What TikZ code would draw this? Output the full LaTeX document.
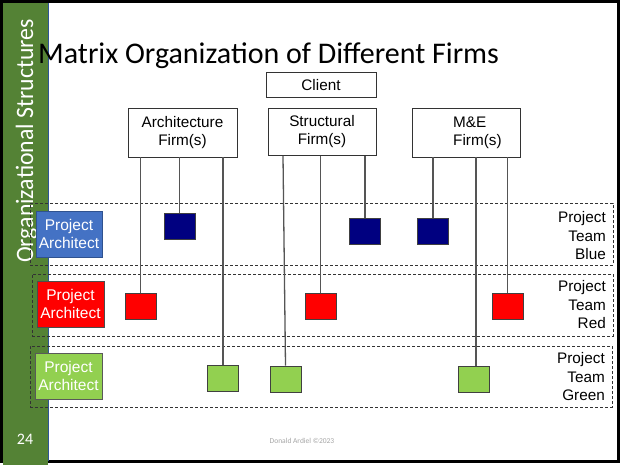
\documentclass[tikz,border=0pt]{standalone}
\usepackage{fontspec}
\setmainfont{Liberation Sans}
\newfontfamily\calfont{Carlito}
\newfontfamily\sidefont[FakeStretch=0.95]{Carlito}
\definecolor{barGreen}{HTML}{548235}
\definecolor{paBlue}{HTML}{4472C4}
\definecolor{paBlueEdge}{HTML}{2F528F}
\definecolor{sqNavy}{HTML}{000080}
\definecolor{sqRed}{HTML}{FF0000}
\definecolor{sqGreen}{HTML}{92D050}
\definecolor{lineGray}{HTML}{555555}
\definecolor{footGray}{HTML}{A6A6A6}
\definecolor{edgeBlue}{HTML}{2F5597}
\tikzset{
  firmbox/.style={draw=black!80, line width=0.8pt, fill=white, inner sep=0pt, font=\fontsize{15.3}{18}\selectfont, align=center},
  sq/.style={draw=black!75, line width=0.8pt, minimum width=31pt, minimum height=26pt, inner sep=0pt},
  pabox/.style={line width=0.9pt, minimum width=66pt, minimum height=46pt, inner sep=0pt, text=white, align=center, font=\fontsize{15.5}{18}\selectfont},
  teambox/.style={draw=black!80, dash pattern=on 3pt off 2pt, line width=0.9pt},
  teamlabel/.style={anchor=east, align=right, font=\fontsize{15.3}{18.5}\selectfont, inner sep=0pt},
  conn/.style={draw=lineGray, line width=1.3pt}
}
\begin{document}
\begin{tikzpicture}[x=1pt,y=-1pt]
\useasboundingbox (0,0) rectangle (621,465);
\fill[white] (0,0) rectangle (621,465);
% frame
\draw[black, line width=3pt] (1.5,1.5) rectangle (618.5,461.5);
% sidebar
\fill[barGreen] (3,3) rectangle (48,465);
\draw[edgeBlue, line width=0.8pt] (48.5,3) -- (48.5,461);
\node[rotate=90, anchor=base, inner sep=0pt, text=white, font=\sidefont\fontsize{25}{30}\selectfont] (side) at (33,141) {Organizational Structures};
\node[text=white, font=\calfont\fontsize{16}{19}\selectfont, inner sep=0pt] (pnum) at (25,439) {24};
% title
\node[anchor=base west, inner sep=0pt, font=\calfont\fontsize{30}{35}\selectfont] (title) at (38,63.5) {Matrix Organization of Different Firms};
% team boxes
\node[teambox, minimum width=583pt, minimum height=62pt, inner sep=0pt] (tblue) at (321.5,234) {};
\node[teambox, minimum width=581pt, minimum height=62pt, inner sep=0pt] (tred) at (322.5,305) {};
\node[teambox, minimum width=582pt, minimum height=61pt, inner sep=0pt] (tgreen) at (321,376.5) {};
% project architects
\node[pabox, fill=paBlue, draw=paBlueEdge] (pab) at (69,234) {Project\\Architect};
\node[pabox, fill=sqRed, draw=black!70, minimum width=67pt] (par) at (70.5,304) {Project\\Architect};
\node[pabox, fill=sqGreen, draw=black!65, minimum width=67pt] (pag) at (68.5,376) {Project\\Architect};
% team labels
\node[teamlabel] (lblue) at (606,236) {Project\\Team\\Blue};
\node[teamlabel] (lred) at (606,305) {Project\\Team\\Red};
\node[teamlabel] (lgreen) at (605,377) {Project\\Team\\Green};
% client and firms
\node[firmbox, minimum width=110pt, minimum height=25.5pt] (client) at (321,85) {Client};
\node[firmbox, minimum width=109pt, minimum height=49pt] (arch) at (182.5,132.5) {Architecture\\Firm(s)};
\node[firmbox, minimum width=108pt, minimum height=47.5pt] (struct) at (322,132) {Structural\\Firm(s)};
\node[firmbox, minimum width=108pt, minimum height=49pt] (me) at (466,132.5) {};
\node[anchor=west, align=left, inner sep=0pt, font=\fontsize{15.3}{18}\selectfont] (metext) at (453,132.5) {M\&E\\Firm(s)};
% squares
\node[sq, fill=sqNavy] (ab) at (179.5,226) {};
\node[sq, fill=sqRed] (ar) at (140.5,306) {};
\node[sq, fill=sqGreen] (ag) at (223,378) {};
\node[sq, fill=sqNavy] (sb) at (365,231) {};
\node[sq, fill=sqRed] (sr) at (320.5,306) {};
\node[sq, fill=sqGreen] (sg) at (285.5,379) {};
\node[sq, fill=sqNavy] (mb) at (433,231) {};
\node[sq, fill=sqRed] (mr) at (507.5,306) {};
\node[sq, fill=sqGreen] (mg) at (473.5,379) {};
% connectors
\draw[conn] (ar.north |- arch.south) -- (ar.north);
\draw[conn] (ab.north |- arch.south) -- (ab.north);
\draw[conn] (ag.north |- arch.south) -- (ag.north);
\coordinate (s1) at (283,155.8);
\draw[conn] (s1) -- (sg.north);
\draw[conn] (sr.north |- struct.south) -- (sr.north);
\draw[conn] (sb.north |- struct.south) -- (sb.north);
\draw[conn] (mb.north |- me.south) -- (mb.north);
\coordinate (m2) at (476,157);
\draw[conn] (m2) -- (m2 |- mg.north);
\draw[conn] (mr.north |- me.south) -- (mr.north);
% footer
\node[text=footGray, font=\calfont\fontsize{7.5}{9}\selectfont, inner sep=0pt] (foot) at (302,441) {Donald Ardiel ©2023};
\end{tikzpicture}
\end{document}
